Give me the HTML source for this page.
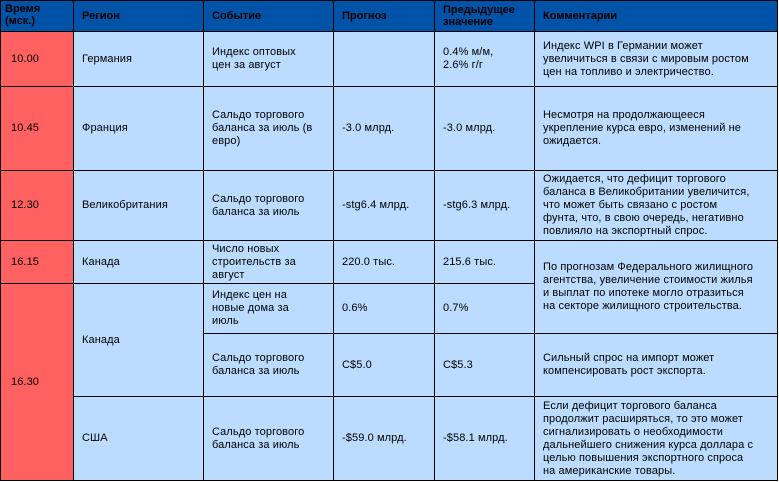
<!DOCTYPE html>
<html><head><meta charset="utf-8"><style>
body{margin:0;width:779px;height:482px;background:#fff;overflow:hidden;font-family:"Liberation Sans",Arial,sans-serif;font-size:11px;color:#000}
.c{position:absolute;box-sizing:border-box;border:1px solid #000;background:#bbdcff;display:flex;align-items:center;padding:0 8px;line-height:13px;white-space:nowrap;letter-spacing:0.1px}
.h{background:#0053a6;font-weight:bold;font-size:11px;line-height:12px;letter-spacing:0}
.r{background:#ff6060;padding-left:10px}
</style></head><body>
<div class="c h" style="left:0;top:0;width:74px;height:32px;padding-left:4px;align-items:flex-start;padding-top:2px">Время<br>(мск.)</div>
<div class="c h" style="left:73px;top:0;width:131px;height:32px">Регион</div>
<div class="c h" style="left:203px;top:0;width:131px;height:32px">Событие</div>
<div class="c h" style="left:333px;top:0;width:102px;height:32px">Прогноз</div>
<div class="c h" style="left:434px;top:0;width:101px;height:32px">Предыдущее<br>значение</div>
<div class="c h" style="left:534px;top:0;width:244px;height:32px">Комментарии</div>

<div class="c r" style="left:0;top:31px;width:74px;height:56px">10.00</div>
<div class="c" style="left:73px;top:31px;width:131px;height:56px">Германия</div>
<div class="c" style="left:203px;top:31px;width:131px;height:56px">Индекс оптовых<br>цен за август</div>
<div class="c" style="left:333px;top:31px;width:102px;height:56px"></div>
<div class="c" style="left:434px;top:31px;width:101px;height:56px">0.4% м/м,<br>2.6% г/г</div>
<div class="c" style="left:534px;top:31px;width:244px;height:56px">Индекс WPI в Германии может<br>увеличиться в связи с мировым ростом<br>цен на топливо и электричество.</div>

<div class="c r" style="left:0;top:86px;width:74px;height:85px">10.45</div>
<div class="c" style="left:73px;top:86px;width:131px;height:85px">Франция</div>
<div class="c" style="left:203px;top:86px;width:131px;height:85px">Сальдо торгового<br>баланса за июль (в<br>евро)</div>
<div class="c" style="left:333px;top:86px;width:102px;height:85px">-3.0 млрд.</div>
<div class="c" style="left:434px;top:86px;width:101px;height:85px">-3.0 млрд.</div>
<div class="c" style="left:534px;top:86px;width:244px;height:85px">Несмотря на продолжающееся<br>укрепление курса евро, изменений не<br>ожидается.</div>

<div class="c r" style="left:0;top:170px;width:74px;height:71px">12.30</div>
<div class="c" style="left:73px;top:170px;width:131px;height:71px">Великобритания</div>
<div class="c" style="left:203px;top:170px;width:131px;height:71px">Сальдо торгового<br>баланса за июль</div>
<div class="c" style="left:333px;top:170px;width:102px;height:71px">-stg6.4 млрд.</div>
<div class="c" style="left:434px;top:170px;width:101px;height:71px">-stg6.3 млрд.</div>
<div class="c" style="left:534px;top:170px;width:244px;height:71px">Ожидается, что дефицит торгового<br>баланса в Великобритании увеличится,<br>что может быть связано с ростом<br>фунта, что, в свою очередь, негативно<br>повлияло на экспортный спрос.</div>

<div class="c r" style="left:0;top:240px;width:74px;height:44px">16.15</div>
<div class="c" style="left:73px;top:240px;width:131px;height:44px">Канада</div>
<div class="c" style="left:203px;top:240px;width:131px;height:44px">Число новых<br>строительств за<br>август</div>
<div class="c" style="left:333px;top:240px;width:102px;height:44px">220.0 тыс.</div>
<div class="c" style="left:434px;top:240px;width:101px;height:44px">215.6 тыс.</div>
<div class="c" style="left:534px;top:240px;width:244px;height:94px">По прогнозам Федерального жилищного<br>агентства, увеличение стоимости жилья<br>и выплат по ипотеке могло отразиться<br>на секторе жилищного строительства.</div>

<div class="c r" style="left:0;top:283px;width:74px;height:198px">16.30</div>
<div class="c" style="left:73px;top:283px;width:131px;height:114px">Канада</div>
<div class="c" style="left:203px;top:283px;width:131px;height:51px">Индекс цен на<br>новые дома за<br>июль</div>
<div class="c" style="left:333px;top:283px;width:102px;height:51px">0.6%</div>
<div class="c" style="left:434px;top:283px;width:101px;height:51px">0.7%</div>

<div class="c" style="left:203px;top:333px;width:131px;height:64px">Сальдо торгового<br>баланса за июль</div>
<div class="c" style="left:333px;top:333px;width:102px;height:64px">C$5.0</div>
<div class="c" style="left:434px;top:333px;width:101px;height:64px">C$5.3</div>
<div class="c" style="left:534px;top:333px;width:244px;height:64px">Сильный спрос на импорт может<br>компенсировать рост экспорта.</div>

<div class="c" style="left:73px;top:396px;width:131px;height:85px">США</div>
<div class="c" style="left:203px;top:396px;width:131px;height:85px">Сальдо торгового<br>баланса за июль</div>
<div class="c" style="left:333px;top:396px;width:102px;height:85px">-$59.0 млрд.</div>
<div class="c" style="left:434px;top:396px;width:101px;height:85px">-$58.1 млрд.</div>
<div class="c" style="left:534px;top:396px;width:244px;height:85px">Если дефицит торгового баланса<br>продолжит расширяться, то это может<br>сигнализировать о необходимости<br>дальнейшего снижения курса доллара с<br>целью повышения экспортного спроса<br>на американские товары.</div>
</body></html>
